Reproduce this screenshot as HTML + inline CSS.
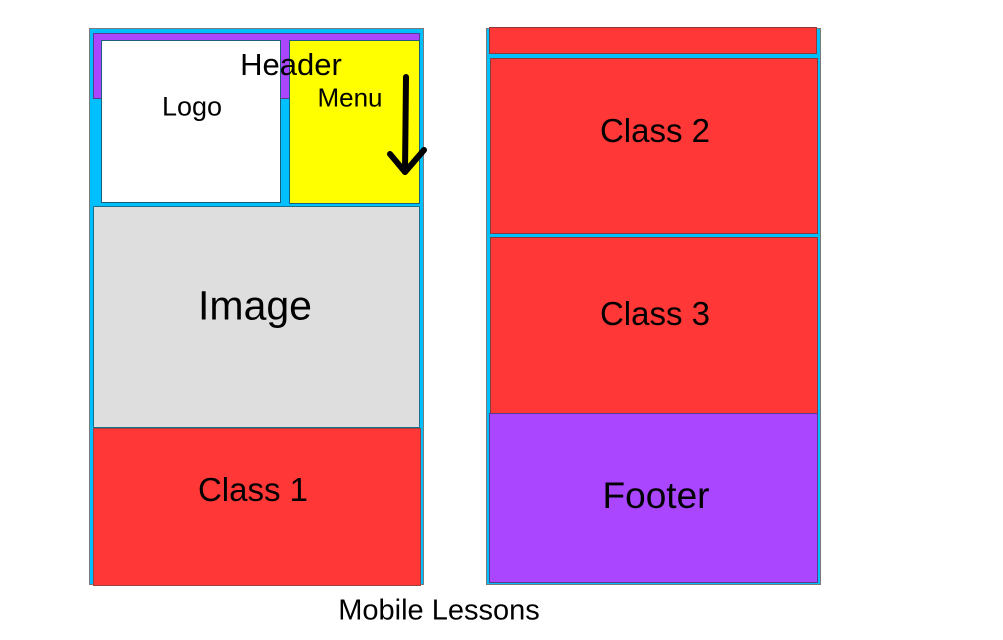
<!DOCTYPE html>
<html><head><meta charset="utf-8"><style>
body{margin:0;width:1003px;height:640px;background:#fff;position:relative;overflow:hidden;font-family:"Liberation Sans",sans-serif}
div{position:absolute;box-sizing:border-box}
.t{position:absolute;transform:translate(-50%,-50%);white-space:nowrap;color:#000}
</style></head><body>
<div style="left:89px;top:28px;width:335px;height:557px;background:#00BFFF;border:1px solid #7a7a7a"></div>
<div style="left:93px;top:33px;width:327px;height:66px;background:#AA46FF;border:1px solid #5a3a8a"></div>
<div style="left:101px;top:40px;width:180px;height:163px;background:#fff;border:1px solid #1a5f7a"></div>
<div style="left:289px;top:40px;width:131px;height:164px;background:#FFFF00;border:1px solid #1a5f7a"></div>
<div style="left:93px;top:206px;width:327px;height:222px;background:#DEDEDE;border:1px solid #1a6f8a"></div>
<div style="left:93px;top:428px;width:328px;height:158px;background:#FF3737;border:1px solid #a04040"></div>
<div style="left:486px;top:28px;width:335px;height:557px;background:#00BFFF;border:1px solid #7a7a7a"></div>
<div style="left:489px;top:27px;width:328px;height:27px;background:#FF3737;border:1px solid #8a3a3a"></div>
<div style="left:490px;top:58px;width:328px;height:176px;background:#FF3737;border:1px solid #8a3a3a"></div>
<div style="left:490px;top:237px;width:328px;height:177px;background:#FF3737;border:1px solid #8a3a3a"></div>
<div style="left:489px;top:413px;width:329px;height:170px;background:#AA46FF;border:1px solid #5a3a8a"></div>
<svg style="position:absolute;left:0;top:0" width="1003" height="640"><g stroke="#000" stroke-width="6" stroke-linecap="round" stroke-linejoin="round" fill="none"><path d="M406 77 L405 172"/><path d="M390 154 L405 172 L424 150"/></g></svg>
<span class="t" style="left:291px;top:65px;font-size:31px">Header</span>
<span class="t" style="left:192px;top:107px;font-size:27px">Logo</span>
<span class="t" style="left:350px;top:98px;font-size:26px">Menu</span>
<span class="t" style="left:255px;top:306px;font-size:41px">Image</span>
<span class="t" style="left:253px;top:490px;font-size:33px">Class 1</span>
<span class="t" style="left:655px;top:131px;font-size:33px">Class 2</span>
<span class="t" style="left:655px;top:314px;font-size:33px">Class 3</span>
<span class="t" style="left:656px;top:496px;font-size:37px">Footer</span>
<span class="t" style="left:439px;top:611px;font-size:29px">Mobile Lessons</span>
</body></html>
